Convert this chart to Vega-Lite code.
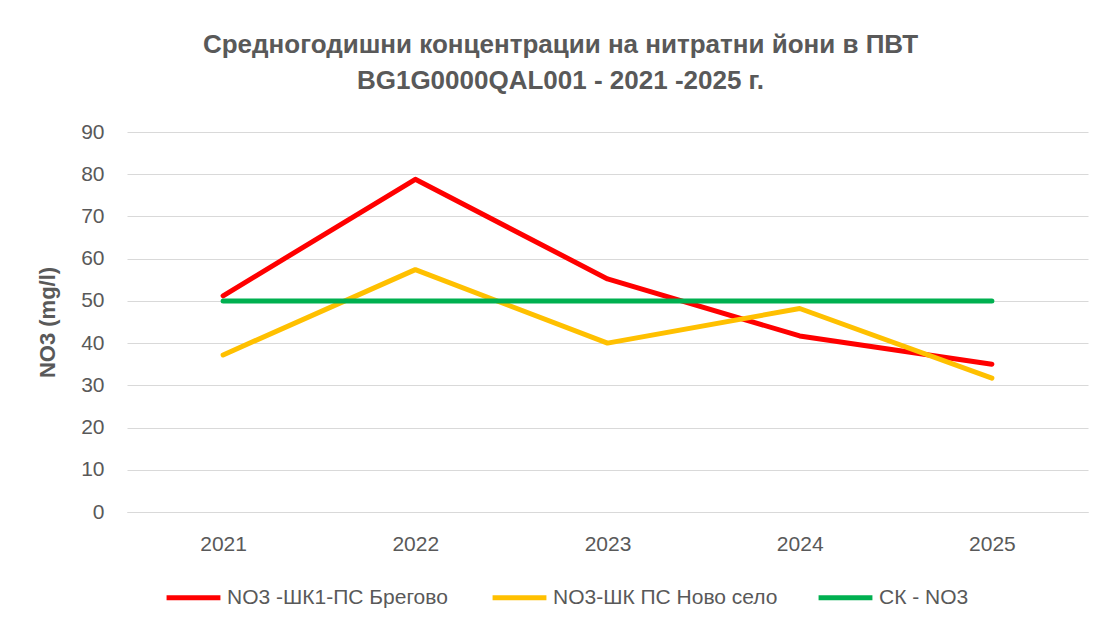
{
  "$schema": "https://vega.github.io/schema/vega-lite/v6.json",
  "width": 961,
  "height": 380,
  "autosize": {"type": "none"},
  "padding": {"left": 127, "top": 132, "right": 16, "bottom": 119},
  "background": "white",
  "title": {
    "text": ["Средногодишни концентрации на нитратни йони в ПВТ", "BG1G0000QAL001 - 2021 -2025 г."],
    "anchor": "middle",
    "dx": -47,
    "offset": 27,
    "font": "Liberation Sans",
    "fontSize": 26,
    "fontWeight": "bold",
    "color": "#595959",
    "lineHeight": 36
  },
  "data": {
    "values": [
      {"year": "2021", "series": "NO3 -ШК1-ПС Брегово", "value": 51.2},
      {"year": "2022", "series": "NO3 -ШК1-ПС Брегово", "value": 78.8},
      {"year": "2023", "series": "NO3 -ШК1-ПС Брегово", "value": 55.2},
      {"year": "2024", "series": "NO3 -ШК1-ПС Брегово", "value": 41.7},
      {"year": "2025", "series": "NO3 -ШК1-ПС Брегово", "value": 35.0},
      {"year": "2021", "series": "NO3-ШК ПС Ново село", "value": 37.2},
      {"year": "2022", "series": "NO3-ШК ПС Ново село", "value": 57.4},
      {"year": "2023", "series": "NO3-ШК ПС Ново село", "value": 40.0},
      {"year": "2024", "series": "NO3-ШК ПС Ново село", "value": 48.2},
      {"year": "2025", "series": "NO3-ШК ПС Ново село", "value": 31.7},
      {"year": "2021", "series": "СК - NO3", "value": 50},
      {"year": "2022", "series": "СК - NO3", "value": 50},
      {"year": "2023", "series": "СК - NO3", "value": 50},
      {"year": "2024", "series": "СК - NO3", "value": 50},
      {"year": "2025", "series": "СК - NO3", "value": 50}
    ]
  },
  "mark": {"type": "line", "strokeWidth": 5, "strokeCap": "round", "strokeJoin": "round"},
  "encoding": {
    "x": {
      "field": "year",
      "type": "ordinal",
      "scale": {"type": "point", "padding": 0.5},
      "axis": {
        "title": null,
        "labelAngle": 0,
        "ticks": false,
        "tickSize": 0,
        "grid": false,
        "domainColor": "#D9D9D9",
        "domainWidth": 1,
        "labelFont": "Liberation Sans",
        "labelFontSize": 21,
        "labelColor": "#595959",
        "labelPadding": 21
      }
    },
    "y": {
      "field": "value",
      "type": "quantitative",
      "scale": {"domain": [0, 90], "nice": false},
      "axis": {
        "title": "NO3 (mg/l)",
        "titleFont": "Liberation Sans",
        "titleFontSize": 22,
        "titleFontWeight": "bold",
        "titleColor": "#595959",
        "titlePadding": 21,
        "values": [0, 10, 20, 30, 40, 50, 60, 70, 80, 90],
        "domain": false,
        "ticks": false,
        "tickSize": 0,
        "grid": true,
        "gridColor": "#D9D9D9",
        "gridWidth": 1,
        "labelFont": "Liberation Sans",
        "labelFontSize": 21,
        "labelColor": "#595959",
        "labelPadding": 23
      }
    },
    "color": {
      "field": "series",
      "type": "nominal",
      "scale": {
        "domain": ["NO3 -ШК1-ПС Брегово", "NO3-ШК ПС Ново село", "СК - NO3"],
        "range": ["#FF0000", "#FFC000", "#00B050"]
      },
      "legend": {
        "title": null,
        "orient": "none",
        "direction": "horizontal",
        "columns": 3,
        "gridAlign": "all",
        "columnPadding": 30,
        "legendX": 37,
        "legendY": 436,
        "padding": 0,
        "symbolType": "stroke",
        "symbolSize": 2900,
        "symbolStrokeWidth": 5,
        "labelFont": "Liberation Sans",
        "labelFontSize": 21,
        "labelColor": "#595959",
        "labelOffset": 4,
        "labelLimit": 400
      }
    }
  },
  "config": {
    "view": {"stroke": null}
  }
}
